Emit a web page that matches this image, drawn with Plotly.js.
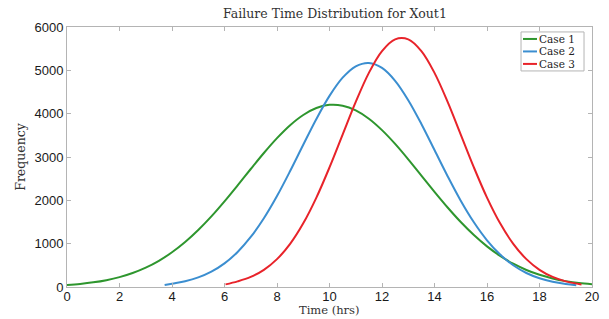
<!DOCTYPE html>
<html>
<head>
<meta charset="utf-8">
<script src="https://cdn.plot.ly/plotly-3.0.1.min.js"></script>
<style>html,body{margin:0;padding:0;background:#fff;}#chart{width:609px;height:319px;}</style>
</head>
<body>
<div id="chart"></div>
<script>
// Case 1 (green)
const case1X = [0,0.5,1,1.5,2,2.5,3,3.5,4,4.5,5,5.5,6,6.5,7,7.5,8,8.5,9,9.5,10,10.5,11,11.5,12,12.5,13,13.5,14,14.5,15,15.5,16,16.5,17,17.5,18,18.5,19,19.5,20];
const case1Y = [46,71,107,158,228,323,447,605,801,1038,1315,1630,1977,2346,2723,3092,3435,3734,3970,4130,4203,4184,4076,3884,3620,3302,2946,2571,2196,1835,1500,1199,938,718,537,393,282,198,136,91,65];
// Case 2 (blue)
const case2X = [3.72,4,4.5,5,5.5,6,6.5,7,7.5,8,8.5,9,9.5,10,10.5,11,11.5,12,12.5,13,13.5,14,14.5,15,15.5,16,16.5,17,17.5,18,18.5,19,19.4];
const case2Y = [45,77,133,221,354,545,808,1154,1586,2099,2676,3283,3878,4410,4830,5093,5171,5055,4758,4311,3762,3160,2557,1991,1493,1078,749,502,323,201,120,69,43];
// Case 3 (red)
const case3X = [6.04,6.5,7,7.5,8,8.5,9,9.5,10,10.5,11,11.5,12,12.5,13,13.5,14,14.5,15,15.5,16,16.5,17,17.5,18,18.5,19,19.5,19.6];
const case3Y = [60,130,232,396,643,995,1469,2063,2760,3517,4271,4942,5444,5715,5715,5444,4942,4271,3517,2760,2063,1469,995,643,396,232,130,69,60];

const seriesNames = ['Case 1','Case 2','Case 3'];
const seriesColors = ['#2e962e','#3b8ed0','#e8232a'];
const xTicks = [0,2,4,6,8,10,12,14,16,18,20];
const yTicks = [0,1000,2000,3000,4000,5000,6000];

const serif = 'DejaVu Serif, serif';
const xs = [case1X, case2X, case3X];
const ys = [case1Y, case2Y, case3Y];
const traces = xs.map((x,i)=>({
  x: x, y: ys[i], type:'scatter', mode:'lines', name: seriesNames[i], showlegend:false,
  line:{color: seriesColors[i], width:2, shape:'spline', smoothing:1}
}));

// compact MATLAB-style legend (short line samples)
const legRowY = [0.954, 0.906, 0.858];
const shapes = [{type:'rect', xref:'paper', yref:'paper', x0:0.8648, x1:0.9848, y0:0.831, y1:0.981,
  line:{color:'#b4b4b4', width:1}, fillcolor:'#fff', layer:'above'}];
const annotations = [];
seriesNames.forEach((n,i)=>{
  shapes.push({type:'line', xref:'paper', yref:'paper', x0:0.8686, x1:0.8952, y0:legRowY[i], y1:legRowY[i],
    line:{color:seriesColors[i], width:2}, layer:'above'});
  annotations.push({xref:'paper', yref:'paper', x:0.8972, y:legRowY[i], xanchor:'left', yanchor:'middle',
    text:n, showarrow:false, borderpad:0, font:{family:serif, size:10.5, color:'#222'}});
});
// x-axis title placed at the bottom edge
annotations.push({xref:'paper', yref:'paper', x:0.5, y:-0.121, xanchor:'center', yanchor:'bottom',
  text:'Time (hrs)', showarrow:false, borderpad:0, font:{family:serif, size:11.5, color:'#333'}});

const axisCommon = {
  showline:true, linecolor:'#b4b4b4', linewidth:1, mirror:'ticks',
  ticks:'inside', ticklen:4, tickcolor:'#b4b4b4', showgrid:false, zeroline:false,
  tickfont:{family:'Liberation Sans, Arial, sans-serif', size:13, color:'#1a1a1a'}
};

const layout = {
  width:609, height:319,
  margin:{l:67, r:17, t:27, b:32},
  paper_bgcolor:'#fff', plot_bgcolor:'#fff',
  title:{text:'Failure Time Distribution for Xout1', x:0.55, xanchor:'center', y:0.956, yanchor:'middle',
    font:{family:serif, size:12.5, color:'#333'}},
  xaxis: Object.assign({}, axisCommon, {range:[0,20], tickvals:xTicks, ticktext:xTicks.map(String),
    ticklabelstandoff:-3}),
  yaxis: Object.assign({}, axisCommon, {range:[0,6000], tickvals:yTicks, ticktext:yTicks.map(String),
    title:{text:'Frequency', standoff:6, font:{family:serif, size:12.5, color:'#333'}}}),
  showlegend:false,
  shapes: shapes,
  annotations: annotations
};

Plotly.newPlot('chart', traces, layout, {staticPlot:true, displayModeBar:false});
</script>
</body>
</html>
